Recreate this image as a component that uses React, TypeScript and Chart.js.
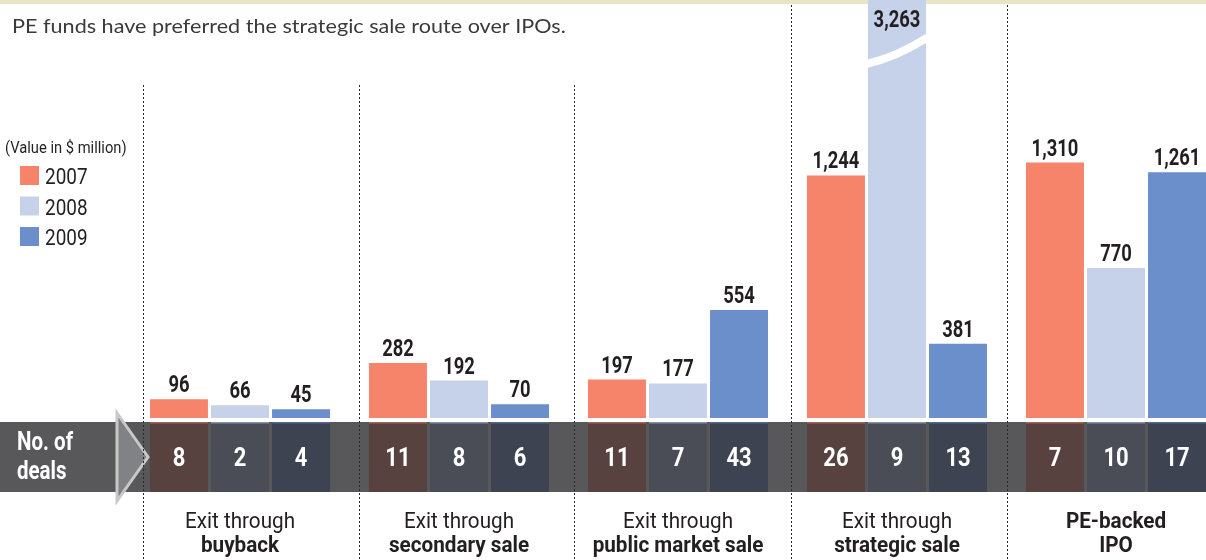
import React, { useEffect, useRef } from "react";
import { Chart, registerables } from "chart.js";

Chart.register(...registerables);

// ---------------- data ----------------
const categoryLine1 = ["Exit through", "Exit through", "Exit through", "Exit through", "PE-backed"];
const categoryLine2 = ["buyback", "secondary sale", "public market sale", "strategic sale", "IPO"];
const categoryLine1Bold = [false, false, false, false, true];
const years = ["2007", "2008", "2009"];
const values2007 = [96, 282, 197, 1244, 1310];
const values2008 = [66, 192, 177, 3263, 770];
const values2009 = [45, 70, 554, 381, 1261];
const deals2007 = [8, 11, 11, 26, 7];
const deals2008 = [2, 8, 7, 9, 10];
const deals2009 = [4, 6, 43, 13, 17];
const yAxisMax = 2144; // values above this are drawn as broken bars
const titleText = "PE funds have preferred the strategic sale route over IPOs.";
const unitNote = "(Value in $ million)";
const dealsLabel = ["No. of", "deals"];

// ---------------- styles ----------------
const BAR_COLORS = ["#f5846a", "#c6d2e9", "#6a8fca"];
const BAND_COLORS = ["#574240", "#4a4d56", "#3d4350"];
const BAND_BASE = "#58585a";
const TEXT_DARK = "#231f20";
const SEPARATOR_X = [143, 359, 574, 791, 1007];
const SEPARATOR_TOP = [85, 85, 85, 5, 5];

function drawText(
  ctx: CanvasRenderingContext2D,
  s: string,
  x: number,
  y: number,
  font: string,
  color: string,
  align: "left" | "center" | "right",
  sx: number
) {
  ctx.save();
  ctx.font = font;
  ctx.fillStyle = color;
  ctx.textBaseline = "alphabetic";
  ctx.textAlign = "left";
  const w = ctx.measureText(s).width * sx;
  const left = align === "left" ? x : align === "center" ? x - w / 2 : x - w;
  ctx.translate(left, y);
  ctx.scale(sx, 1);
  ctx.fillText(s, 0, 0);
  ctx.restore();
}

const decorPlugin = {
  id: "decor",
  beforeDatasetsDraw(chart: any) {
    const ctx: CanvasRenderingContext2D = chart.ctx;
    ctx.save();
    ctx.fillStyle = "#e8e4c5";
    ctx.fillRect(0, 0, chart.width, 4);
    ctx.restore();
  },
  afterDatasetsDraw(chart: any) {
    const ctx: CanvasRenderingContext2D = chart.ctx;
    const area = chart.chartArea;
    const deals = [deals2007, deals2008, deals2009];
    const bandTop = area.bottom + 4;
    const bandBottom = bandTop + 70;

    // band
    ctx.save();
    ctx.fillStyle = BAND_BASE;
    ctx.fillRect(0, bandTop, chart.width, bandBottom - bandTop);
    chart.data.datasets.forEach((ds: any, d: number) => {
      const meta = chart.getDatasetMeta(d);
      meta.data.forEach((el: any) => {
        const l = el.x - el.width / 2;
        ctx.fillStyle = BAND_COLORS[d];
        ctx.fillRect(l, bandTop, el.width, bandBottom - bandTop);
        ctx.globalAlpha = 0.5;
        ctx.fillStyle = BAR_COLORS[d];
        ctx.fillRect(l, bandTop, el.width, 1.5);
        ctx.globalAlpha = 1;
      });
    });

    // arrow
    const midY = (bandTop + bandBottom) / 2;
    ctx.beginPath();
    ctx.moveTo(117, midY - 44);
    ctx.lineTo(148, midY);
    ctx.lineTo(117, midY + 44);
    ctx.closePath();
    ctx.fillStyle = "#808285";
    ctx.fill();
    ctx.lineWidth = 3;
    ctx.strokeStyle = "#c8c8c8";
    ctx.lineJoin = "miter";
    ctx.stroke();
    ctx.restore();

    drawText(ctx, dealsLabel[0], 17, bandTop + 28, "bold 25px Roboto", "#ffffff", "left", 0.82);
    drawText(ctx, dealsLabel[1], 17, bandTop + 57, "bold 25px Roboto", "#ffffff", "left", 0.82);

    // bars: values, deal counts, breaks
    chart.data.datasets.forEach((ds: any, d: number) => {
      const meta = chart.getDatasetMeta(d);
      meta.data.forEach((el: any, i: number) => {
        const v = ds.data[i] as number;
        const label = v.toLocaleString("en-US");
        if (v > yAxisMax) {
          const l = el.x - el.width / 2;
          const r = el.x + el.width / 2;
          ctx.save();
          ctx.beginPath();
          ctx.rect(l, 0, el.width, area.bottom);
          ctx.clip();
          ctx.beginPath();
          ctx.moveTo(l - 2, 64);
          ctx.quadraticCurveTo(el.x, 57, r + 2, 37);
          ctx.lineWidth = 8;
          ctx.strokeStyle = "#ffffff";
          ctx.stroke();
          ctx.restore();
          drawText(ctx, label, el.x, 27, "bold 23px Roboto", TEXT_DARK, "center", 0.8);
        } else {
          drawText(ctx, label, el.x, el.y - 7, "bold 23px Roboto", TEXT_DARK, "center", 0.8);
        }
        drawText(ctx, String(deals[d][i]), el.x, midY + 9, "bold 25px Roboto", "#ffffff", "center", 0.88);
      });
    });

    // separators
    ctx.save();
    ctx.strokeStyle = "#2a2a2a";
    ctx.lineWidth = 1;
    ctx.setLineDash([2, 2]);
    SEPARATOR_X.forEach((x, k) => {
      ctx.beginPath();
      ctx.moveTo(x + 0.5, SEPARATOR_TOP[k]);
      ctx.lineTo(x + 0.5, chart.height);
      ctx.stroke();
    });
    ctx.restore();

    // category labels
    const xs = chart.scales.x;
    categoryLine1.forEach((c, i) => {
      const cx = xs.getPixelForValue(i);
      drawText(ctx, c, cx, 528, (categoryLine1Bold[i] ? "bold " : "") + "22px Roboto", TEXT_DARK, "center", 0.94);
      drawText(ctx, categoryLine2[i], cx, 552, "bold 22px Roboto", TEXT_DARK, "center", 0.94);
    });

    // legend
    drawText(ctx, unitNote, 5, 153, "16px Roboto", TEXT_DARK, "left", 0.92);
    chart.data.datasets.forEach((ds: any, d: number) => {
      const top = 166 + d * 30.5;
      ctx.fillStyle = BAR_COLORS[d];
      ctx.fillRect(20, top, 19, 19);
      drawText(ctx, ds.label, 45, top + 18, "22px Roboto", TEXT_DARK, "left", 0.86);
    });

    // title
    drawText(ctx, titleText, 12, 33, "20px Lato", "#3a3a3a", "left", 1.08);
  },
};

export default function App() {
  const ref = useRef<HTMLCanvasElement | null>(null);
  useEffect(() => {
    if (!ref.current) return;
    const chart = new Chart(ref.current, {
      type: "bar",
      data: {
        labels: categoryLine2,
        datasets: [values2007, values2008, values2009].map((vals, d) => ({
          label: years[d],
          data: vals,
          backgroundColor: BAR_COLORS[d],
          borderWidth: 0,
          categoryPercentage: 0.836,
          barPercentage: 0.95,
        })),
      },
      options: {
        responsive: false,
        animation: false,
        devicePixelRatio: 1,
        layout: { padding: { left: 130.5, right: 4.5, top: 0, bottom: 142 } },
        scales: {
          x: { display: false },
          y: { display: false, min: 0, max: yAxisMax },
        },
        plugins: { legend: { display: false }, tooltip: { enabled: false } },
      },
      plugins: [decorPlugin],
    });
    return () => chart.destroy();
  }, []);
  return (
    <div
      style={{
        position: "fixed",
        left: 0,
        top: 0,
        width: 1206,
        height: 560,
        overflow: "hidden",
        background: "#ffffff",
      }}
    >
      <canvas ref={ref} width={1230} height={560} style={{ width: 1230, height: 560, display: "block" }} />
    </div>
  );
}
